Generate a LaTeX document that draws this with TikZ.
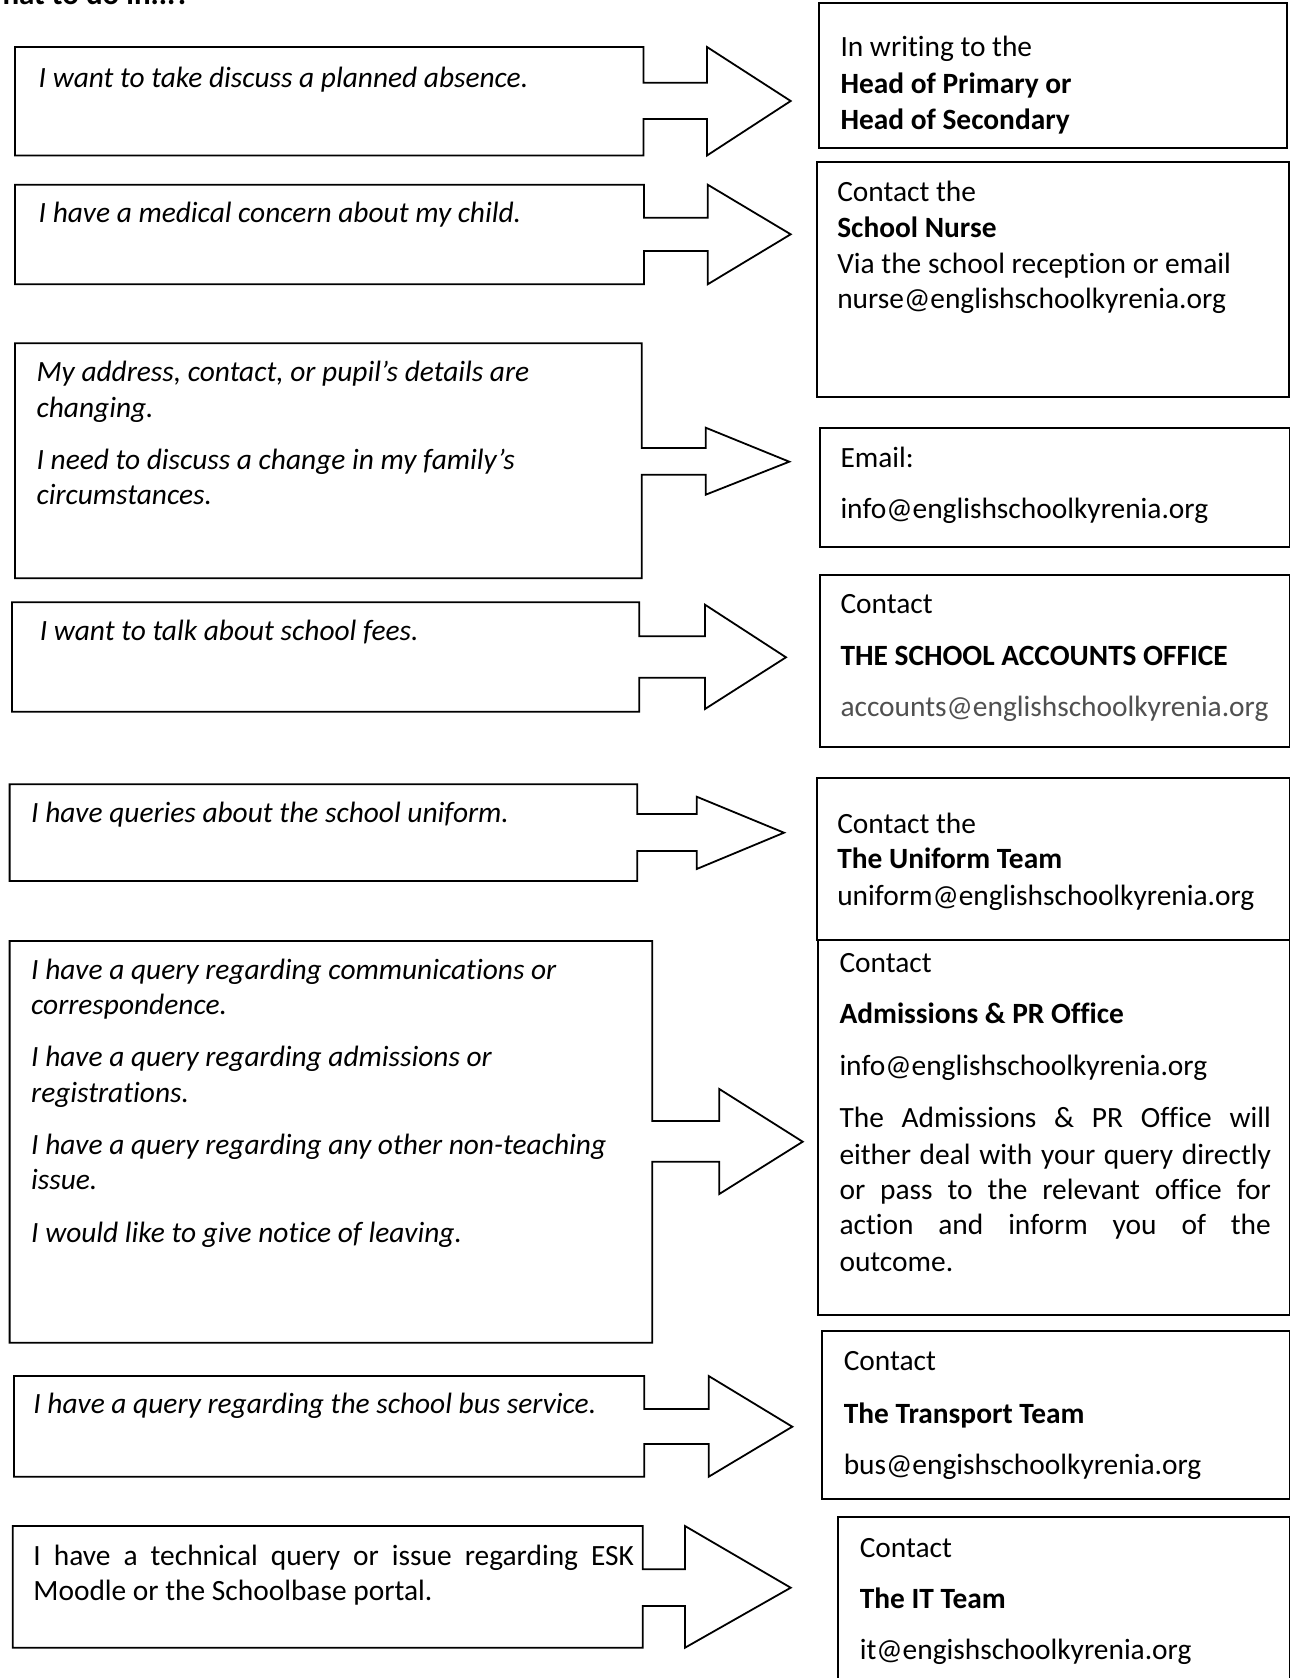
\documentclass[tikz,border=0pt]{standalone}
\usepackage{fontspec}
\setmainfont{Carlito}[Ligatures=NoCommon]
\newcommand\fsz{\fontsize{29.4}{34}\selectfont}
\definecolor{mailgray}{RGB}{80,80,80}
\tikzset{
  callout/.style={draw=black, line width=1.8pt, line join=miter},
  rbox/.style={draw=black, line width=1.8pt},
  lt/.style={anchor=base west, inner sep=0pt, font=\fsz\itshape},
  rt/.style={anchor=base west, inner sep=0pt, font=\fsz},
  rb/.style={anchor=base west, inner sep=0pt, font=\fsz\bfseries},
}
\begin{document}
\begin{tikzpicture}[x=1pt, y=-1pt]
\useasboundingbox (0,0) rectangle (1291,1678);
\fill[white] (0,0) rectangle (1291,1678);

% title (cut at the top)
\node[anchor=base east, inner sep=0pt, font=\fontsize{31}{36}\selectfont\bfseries] (title) at (190,4.3) {What to do in...?};

% ---------- callout arrows ----------
\draw[callout] (15,47) -- (643.5,47) -- (643.5,82.7) -- (707,82.7) -- (707,47) -- (790.7,101) -- (707,155.5) -- (707,119) -- (643.5,119) -- (643.5,155.5) -- (15,155.5) -- cycle;
\draw[callout] (15,184.7) -- (644,184.7) -- (644,217.7) -- (707.7,217.7) -- (707.7,184.7) -- (790.7,234.3) -- (707.7,284.3) -- (707.7,251) -- (644,251) -- (644,284.3) -- (15,284.3) -- cycle;
\draw[callout] (15,343.3) -- (641.7,343.3) -- (641.7,448) -- (705.7,448) -- (705.7,427.7) -- (789.3,461.7) -- (705.7,494.7) -- (705.7,474.7) -- (641.7,474.7) -- (641.7,578.3) -- (15,578.3) -- cycle;
\draw[callout] (12,602.3) -- (639.3,602.3) -- (639.3,636.3) -- (705,636.3) -- (705,604.7) -- (786,657.3) -- (705,709) -- (705,677.7) -- (639.3,677.7) -- (639.3,711.7) -- (12,711.7) -- cycle;
\draw[callout] (9.6,784.3) -- (637.3,784.3) -- (637.3,814) -- (696.7,814) -- (696.7,796.7) -- (784,832.7) -- (696.7,869) -- (696.7,851) -- (637.3,851) -- (637.3,881) -- (9.6,881) -- cycle;
\draw[callout] (9.6,941) -- (652.3,941) -- (652.3,1121) -- (719.3,1121) -- (719.3,1089) -- (802.7,1141.7) -- (719.3,1194) -- (719.3,1161.7) -- (652.3,1161.7) -- (652.3,1342.7) -- (9.6,1342.7) -- cycle;
\draw[callout] (14,1376) -- (644.3,1376) -- (644.3,1409) -- (708.7,1409) -- (708.7,1376) -- (792.3,1426.7) -- (708.7,1476.7) -- (708.7,1444) -- (644.3,1444) -- (644.3,1476.7) -- (14,1476.7) -- cycle;
\draw[callout] (12.8,1526) -- (642.7,1526) -- (642.7,1569.3) -- (685,1569.3) -- (685,1526) -- (790.7,1587.7) -- (685,1647.7) -- (685,1606) -- (642.7,1606) -- (642.7,1647.7) -- (12.8,1647.7) -- cycle;

% ---------- right boxes ----------
\draw[rbox] (819,2.7) rectangle (1287,148);
\draw[rbox] (817,162) rectangle (1289,397);
\draw[rbox] (820,428) rectangle (1289.5,547);
\draw[rbox] (820,575) rectangle (1289.5,747);
\draw[rbox] (817,778) rectangle (1289.5,940);
\draw[rbox] (818,940) rectangle (1289.5,1315);
\draw[rbox] (822,1331) rectangle (1289.5,1499);
\draw[rbox] (838,1517) rectangle (1289.5,1700);

% ---------- left texts ----------
\node[lt] (q1) at (38.5,87) {I want to take discuss a planned absence.};
\node[lt] (q2) at (38.5,222) {I have a medical concern about my child.};
\node[lt] (q3a) at (36.4,381.5) {My address, contact, or pupil’s details are};
\node[lt] (q3b) at (36.4,417) {changing.};
\node[lt] (q3c) at (36.4,469.3) {I need to discuss a change in my family’s};
\node[lt] (q3d) at (36.4,504.6) {circumstances.};
\node[lt] (q4) at (39.6,640.6) {I want to talk about school fees.};
\node[lt] (q5) at (31,822.6) {I have queries about the school uniform.};
\node[lt] (q6a) at (31,979) {I have a query regarding communications or};
\node[lt] (q6b) at (31,1014) {correspondence.};
\node[lt] (q6c) at (31,1066.7) {I have a query regarding admissions or};
\node[lt] (q6d) at (31,1102) {registrations.};
\node[lt] (q6e) at (31,1154.4) {I have a query regarding any other non-teaching};
\node[lt] (q6f) at (31,1189.8) {issue.};
\node[lt] (q6g) at (31,1242.2) {I would like to give notice of leaving.};
\node[lt] (q7) at (33.2,1413.5) {I have a query regarding the school bus service.};
\node[rt] (q8a) at (33.2,1565.5) {\makebox[600.5pt][s]{I have a technical query or issue regarding ESK}};
\node[rt] (q8b) at (33.2,1600.8) {Moodle or the Schoolbase portal.};

% ---------- right texts ----------
\node[rt] (a1a) at (840.3,57) {In writing to the};
\node[rb] (a1b) at (840.3,93.6) {Head of Primary or};
\node[rb] (a1c) at (840.3,129) {Head of Secondary};

\node[rt] (a2a) at (837.1,201.7) {Contact the};
\node[rb] (a2b) at (837.1,237) {School Nurse};
\node[rt] (a2c) at (837.1,273.4) {Via the school reception or email};
\node[rt] (a2d) at (837.1,308.7) {nurse@englishschoolkyrenia.org};

\node[rt] (a3a) at (840.3,467.2) {Email:};
\node[rt] (a3b) at (840.3,518.6) {info@englishschoolkyrenia.org};

\node[rt] (a4a) at (840.3,613.8) {Contact};
\node[rb] (a4b) at (840.3,665.2) {THE SCHOOL ACCOUNTS OFFICE};
\node[rt, text=mailgray] (a4c) at (840.3,716.6) {accounts@englishschoolkyrenia.org};

\node[rt] (a5a) at (837.1,833.3) {Contact the};
\node[rb] (a5b) at (837.1,868.6) {The Uniform Team};
\node[rt] (a5c) at (837.1,905) {uniform@englishschoolkyrenia.org};

\node[rt] (a6a) at (839.3,972.5) {Contact};
\node[rb] (a6b) at (839.3,1023.8) {Admissions \& PR Office};
\node[rt] (a6c) at (839.3,1075.2) {info@englishschoolkyrenia.org};
\node[rt] (a6d) at (839.3,1127.7) {\makebox[431.4pt][s]{The Admissions \& PR Office will}};
\node[rt] (a6e) at (839.3,1164.1) {\makebox[431.4pt][s]{either deal with your query directly}};
\node[rt] (a6f) at (839.3,1199.4) {\makebox[431.4pt][s]{or pass to the relevant office for}};
\node[rt] (a6g) at (839.3,1234.7) {\makebox[431.4pt][s]{action and inform you of the}};
\node[rt] (a6h) at (839.3,1271.1) {outcome.};

\node[rt] (a7a) at (843.6,1370.7) {Contact};
\node[rb] (a7b) at (843.6,1423.1) {The Transport Team};
\node[rt] (a7c) at (843.6,1474.5) {bus@engishschoolkyrenia.org};

\node[rt] (a8a) at (859.6,1557) {Contact};
\node[rb] (a8b) at (859.6,1608.3) {The IT Team};
\node[rt] (a8c) at (859.6,1659.7) {it@engishschoolkyrenia.org};
\end{tikzpicture}
\end{document}
